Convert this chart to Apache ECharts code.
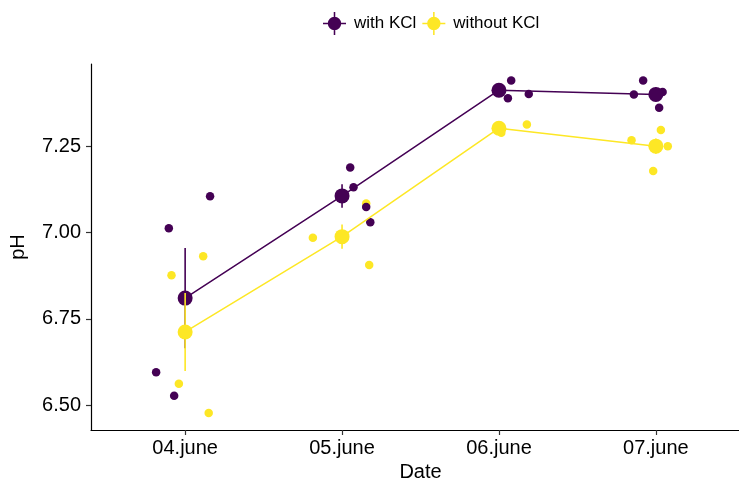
<!DOCTYPE html>
<html>
<head>
<meta charset="utf-8">
<script src="https://cdn.jsdelivr.net/npm/echarts@6/dist/echarts.min.js"></script>
<style>html,body{margin:0;padding:0;background:#fff}#c{width:739px;height:486px}</style>
</head>
<body>
<div id="c"></div>
<script>
// ---- data ----
var categories = ['04.june', '05.june', '06.june', '07.june'];
var catPos = [1, 2, 3, 4];
var yTicks = [6.50, 6.75, 7.00, 7.25];

var withMean = [6.810, 7.106, 7.412, 7.400];
var withSE = [0.145, 0.034, 0.015, 0.020];
var withoutMean = [6.712, 6.988, 7.302, 7.250];
var withoutSE = [0.113, 0.035, 0.010, 0.022];

// jittered replicate points (x position, pH)
var withX = [1.159, 0.896, 0.815, 0.930, 2.052, 2.073, 2.154, 2.180, 3.078, 3.057, 3.190, 3.919, 3.860, 4.043, 4.021];
var withY = [7.105, 7.012, 6.595, 6.527, 7.188, 7.131, 7.074, 7.030, 7.440, 7.389, 7.401, 7.440, 7.400, 7.407, 7.361];
var withoutX = [1.115, 0.913, 0.960, 1.150, 1.814, 2.154, 2.173, 2.000, 3.178, 3.015, 2.990, 4.032, 3.845, 4.076, 3.983];
var withoutY = [6.931, 6.876, 6.562, 6.477, 6.985, 7.084, 6.906, 6.978, 7.313, 7.289, 7.300, 7.297, 7.267, 7.250, 7.178];

var PURPLE = '#440154';
var YELLOW = '#FDE725';
var FONT = 'Liberation Sans, Arial, sans-serif';

function pairs(xs, ys) { return xs.map(function (x, i) { return [x, ys[i]]; }); }
function meanPairs(m) { return m.map(function (v, i) { return [catPos[i], v]; }); }
function errData(m, se) { return m.map(function (v, i) { return [catPos[i], v - se[i], v + se[i]]; }); }

function errSeries(name, data, color, z) {
  return {
    name: name, type: 'custom', z: z, silent: true,
    data: data,
    renderItem: function (params, api) {
      var p1 = api.coord([api.value(0), api.value(1)]);
      var p2 = api.coord([api.value(0), api.value(2)]);
      return { type: 'line', shape: { x1: p1[0], y1: p1[1], x2: p2[0], y2: p2[1] },
        style: { stroke: color, lineWidth: 1.6 } };
    }
  };
}

var iconPath = 'path://M0,11.2H24V12.8H0Z M11.2,0H12.8V24H11.2Z M12,5A7,7 0 1,1 11.99,5Z';

var chart = echarts.init(document.getElementById('c'), null, { renderer: 'canvas' });
chart.setOption({
  animation: false,
  backgroundColor: '#fff',
  textStyle: { fontFamily: FONT },
  legend: {
    left: 318, top: 7,
    itemWidth: 23, itemHeight: 23, itemGap: 6,
    textStyle: { fontSize: 17, color: '#000', fontFamily: FONT, padding: [0, 0, 0, 3] },
    data: [
      { name: 'with KCl', icon: iconPath, itemStyle: { color: PURPLE } },
      { name: 'without KCl', icon: iconPath, itemStyle: { color: YELLOW } }
    ]
  },
  grid: { left: 91, right: -11, top: 64, bottom: 56, containLabel: false, outerBoundsMode: 'none' },
  xAxis: {
    type: 'value', min: 0.4, max: 4.6,
    name: 'Date', nameLocation: 'middle', nameGap: 32,
    nameTextStyle: { fontSize: 20, color: '#000', fontFamily: FONT },
    axisLine: { show: true, onZero: false, lineStyle: { color: '#000', width: 1.2 } },
    axisTick: { show: true, length: 5, customValues: catPos, lineStyle: { color: '#333', width: 1.2 } },
    axisLabel: { customValues: catPos, margin: 8, fontSize: 20, color: '#000', fontFamily: FONT,
      formatter: function (v) { var i = catPos.indexOf(Math.round(v)); return i >= 0 ? categories[i] : ''; } },
    splitLine: { show: false }
  },
  yAxis: {
    type: 'value', min: 6.428, max: 7.488,
    name: 'pH', nameLocation: 'middle', nameGap: 63, nameRotate: 90,
    nameTextStyle: { fontSize: 20, color: '#000', fontFamily: FONT },
    axisLine: { show: true, onZero: false, lineStyle: { color: '#000', width: 1.2 } },
    axisTick: { show: true, length: 5, customValues: yTicks, lineStyle: { color: '#333', width: 1.2 } },
    axisLabel: { customValues: yTicks, margin: 10, fontSize: 20, color: '#000', fontFamily: FONT,
      formatter: function (v) { return v.toFixed(2); } },
    splitLine: { show: false }
  },
  series: [
    { name: 'without KCl', type: 'scatter', z: 2, symbolSize: 8.5, itemStyle: { color: YELLOW, opacity: 1 },
      data: pairs(withoutX, withoutY) },
    { name: 'with KCl', type: 'scatter', z: 3, symbolSize: 8.5, itemStyle: { color: PURPLE, opacity: 1 },
      data: pairs(withX, withY) },
    { name: 'with KCl', type: 'line', z: 4, symbol: 'none', lineStyle: { color: PURPLE, width: 1.5 },
      itemStyle: { color: PURPLE }, data: meanPairs(withMean) },
    errSeries('with KCl', errData(withMean, withSE), PURPLE, 4),
    { name: 'with KCl', type: 'scatter', z: 5, symbolSize: 15, itemStyle: { color: PURPLE, opacity: 1 },
      data: meanPairs(withMean) },
    { name: 'without KCl', type: 'line', z: 6, symbol: 'none', lineStyle: { color: YELLOW, width: 1.5 },
      itemStyle: { color: YELLOW }, data: meanPairs(withoutMean) },
    errSeries('without KCl', errData(withoutMean, withoutSE), YELLOW, 6),
    { name: 'without KCl', type: 'scatter', z: 7, symbolSize: 15, itemStyle: { color: YELLOW, opacity: 1 },
      data: meanPairs(withoutMean) }
  ]
});
</script>
</body>
</html>
